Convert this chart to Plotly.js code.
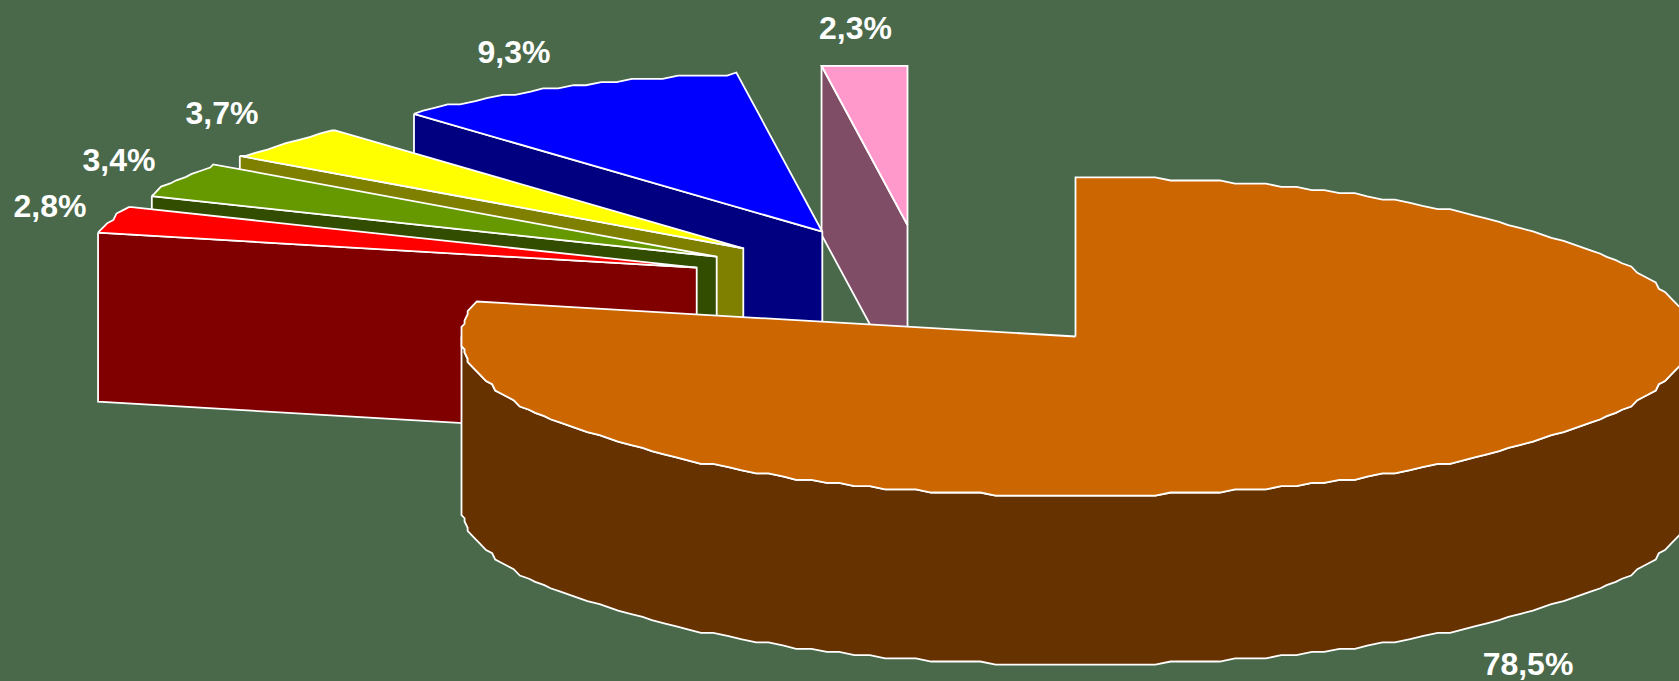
<!DOCTYPE html>
<html>
<head>
<meta charset="utf-8">
<script src="https://cdn.plot.ly/plotly-3.0.1.min.js"></script>
<style>html,body{margin:0;padding:0;background:#4A694A}</style>
</head>
<body>
<div id="chart" style="width:1679px;height:681px"></div>
<script>
// data, clockwise from 12 o'clock
const sliceLabels = ["78,5%", "2,8%", "3,4%", "3,7%", "9,3%", "2,3%"];
const sliceValues = [78.55, 2.8, 3.4, 3.7, 9.3, 2.25];

// style
const topColors  = ["#CC6600", "#FF0000", "#669900", "#FFFF00", "#0000FF", "#FF99CC"];
const sideColors = ["#663300", "#800000", "#334D00", "#808000", "#000080", "#804D66"];
const apexX  = [1075.5, 696.7, 716.7, 743.3, 822.3, 907.5];
const apexY  = [336.5, 267.7, 256.7, 248.3, 231.7, 225];
const labelX = [50, 119, 222, 514, 855.5, 1528];
const labelY = [209, 163, 115.5, 54.5, 31, 667];
const labelOrder = [1, 2, 3, 4, 5, 0];
const RX = 614, RY = 159.2, DEPTH = 169;
const STEP_X = 3.07, STEP_Y = 3.184, ANGLE_STEP = 1.5;
const rad = d => d * Math.PI / 180;
const snap = (v, s) => Math.round(v / s) * s;

// cumulative angles from the values
const total = sliceValues.reduce((a, b) => a + b, 0);
const bounds = [0];
sliceValues.forEach(v => bounds.push(bounds[bounds.length - 1] + v / total * 360));

function arc(i, a0, a1) {
  const angles = [a0];
  for (let m = Math.floor(a0 / ANGLE_STEP) + 1; m * ANGLE_STEP < a1; m++) angles.push(m * ANGLE_STEP);
  angles.push(a1);
  const xs = angles.map(a => apexX[i] + snap(RX * Math.sin(rad(a)), STEP_X));
  const ys = angles.map(a => apexY[i] - snap(RY * Math.cos(rad(a)), STEP_Y));
  return [xs, ys];
}

function poly(xs, ys, fill) {
  return {
    type: "scatter", mode: "lines", x: xs, y: ys, fill: "toself", fillcolor: fill,
    line: {color: "#FFFFFF", width: 1.8, simplify: false},
    hoverinfo: "skip", showlegend: false
  };
}

const traces = [];
// exploded slices, back to front
for (let i = sliceValues.length - 1; i >= 1; i--) {
  const a0 = bounds[i], a1 = bounds[i + 1];
  const [ax, ay] = arc(i, a0, a1);
  traces.push(poly(
    [ax[0], apexX[i], apexX[i], ax[0], ax[0]],
    [ay[0], apexY[i], apexY[i] + DEPTH, ay[0] + DEPTH, ay[0]],
    sideColors[i]));
  traces.push(poly([apexX[i], ...ax, apexX[i]], [apexY[i], ...ay, apexY[i]], topColors[i]));
}
// big slice: outer wall then top
const [wx, wy] = arc(0, 90, 270);
traces.push(poly(
  [...wx, ...wx.slice().reverse(), wx[0]],
  [...wy, ...wy.slice().reverse().map(y => y + DEPTH), wy[0]],
  sideColors[0]));
const [tx, ty] = arc(0, bounds[0], bounds[1]);
traces.push(poly([apexX[0], ...tx, apexX[0]], [apexY[0], ...ty, apexY[0]], topColors[0]));

// percentage labels
traces.push({
  type: "scatter", mode: "text", x: labelX, y: labelY,
  text: labelOrder.map(i => sliceLabels[i]),
  textposition: "middle center", cliponaxis: false,
  textfont: {family: "Liberation Sans, Arial, sans-serif", size: 32, color: "#FFFFFF", weight: 700},
  hoverinfo: "skip", showlegend: false
});

Plotly.newPlot("chart", traces, {
  width: 1679, height: 681, autosize: false,
  margin: {l: 0, r: 0, t: 0, b: 0, pad: 0},
  paper_bgcolor: "#4A694A", plot_bgcolor: "#4A694A",
  xaxis: {range: [0, 1679], visible: false, fixedrange: true},
  yaxis: {range: [681, 0], visible: false, fixedrange: true},
  showlegend: false
}, {displayModeBar: false, staticPlot: true});
</script>
</body>
</html>
